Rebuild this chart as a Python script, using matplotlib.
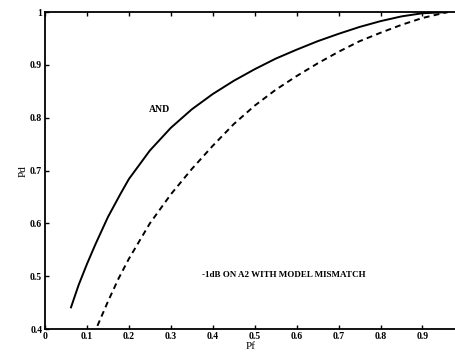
import matplotlib
matplotlib.use("Agg")
import matplotlib.pyplot as plt

# curves
pf_and = [0.062, 0.08, 0.10, 0.12, 0.15, 0.18, 0.20, 0.25, 0.30, 0.35, 0.40, 0.45, 0.50,
          0.55, 0.60, 0.65, 0.70, 0.75, 0.80, 0.85, 0.90, 0.959]
pd_and = [0.441, 0.483, 0.523, 0.560, 0.612, 0.656, 0.684, 0.738, 0.781, 0.816, 0.845, 0.870,
          0.892, 0.912, 0.929, 0.945, 0.959, 0.972, 0.983, 0.992, 0.998, 1.0]

pf_mm = [0.125, 0.15, 0.175, 0.20, 0.25, 0.30, 0.35, 0.40, 0.45, 0.50, 0.55, 0.60, 0.65,
         0.70, 0.75, 0.80, 0.85, 0.90, 0.959]
pd_mm = [0.406, 0.452, 0.495, 0.533, 0.600, 0.655, 0.703, 0.747, 0.788, 0.823, 0.853, 0.879,
         0.903, 0.925, 0.945, 0.961, 0.976, 0.989, 1.0]

xticks = [0, 0.1, 0.2, 0.3, 0.4, 0.5, 0.6, 0.7, 0.8, 0.9]
xtick_labels = ['0', '0.1', '0.2', '0.3', '0.4', '0.5', '0.6', '0.7', '0.8', '0.9']
yticks = [0.4, 0.5, 0.6, 0.7, 0.8, 0.9, 1.0]
ytick_labels = ['0.4', '0.5', '0.6', '0.7', '0.8', '0.9', '1']

plt.rcParams['font.family'] = ['Liberation Serif', 'DejaVu Serif']
plt.rcParams['font.weight'] = 'bold'

fig = plt.figure(figsize=(4.56, 3.56), dpi=100)
ax = fig.add_axes([0.0987, 0.0758, 0.9013, 0.890])

ax.plot(pf_and, pd_and, 'k-', lw=1.4)
ax.plot(pf_mm, pd_mm, 'k--', lw=1.4, dashes=(3, 2.2))

ax.set_xlim(0, 0.98)
ax.set_ylim(0.4, 1.0)
ax.set_xticks(xticks)
ax.set_xticklabels(xtick_labels)
ax.set_yticks(yticks)
ax.set_yticklabels(ytick_labels)
ax.tick_params(direction='in', length=3, width=1, labelsize=7, pad=2,
               top=True, right=False)
for s in ['left', 'bottom', 'top']:
    ax.spines[s].set_linewidth(1.3)
ax.spines['right'].set_visible(False)

ax.set_xlabel('Pf', fontsize=8, labelpad=1)
ax.set_ylabel('Pd', fontsize=8, labelpad=2)

ax.text(0.274, 0.815, 'AND', fontsize=7, ha='center', va='center')
ax.text(0.374, 0.502, '-1dB ON A2 WITH MODEL MISMATCH', fontsize=6.5, ha='left', va='center')

fig.savefig('out.png', dpi=100)
